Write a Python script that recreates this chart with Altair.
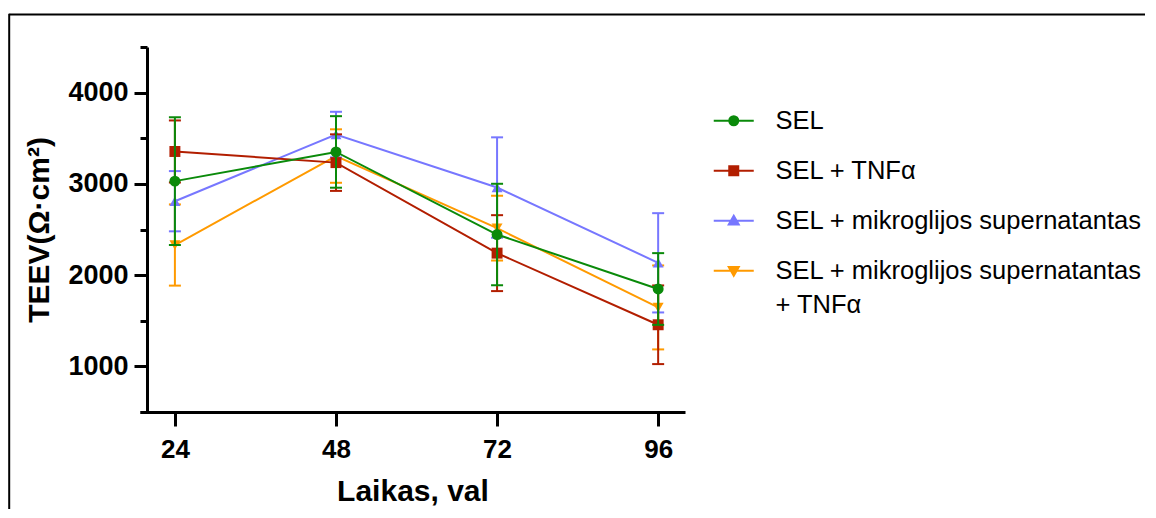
import altair as alt
import pandas as pd

# ---- data ----
times = [24, 48, 72, 96]
series = [
    "SEL",
    "SEL + TNFα",
    "SEL + mikroglijos supernatantas",
    "SEL + mikroglijos supernatantas + TNFα",
]
mean_sel = [3030, 3350, 2445, 1848]
sd_sel = [700, 392, 556, 393]
mean_tnf = [3355, 3233, 2241, 1456]
sd_tnf = [340, 310, 416, 431]
mean_mik = [2810, 3540, 2960, 2135]
sd_mik = [330, 250, 550, 544]
mean_mik_tnf = [2330, 3305, 2515, 1646]
sd_mik_tnf = [445, 293, 355, 460]

x_ticks = [24, 48, 72, 96]
y_ticks = [500, 1000, 1500, 2000, 2500, 3000, 3500, 4000, 4500]

# ---- styles ----
colors = ["#0A8A0A", "#B21E00", "#7777FF", "#FF9A00"]
shapes = ["circle", "square", "triangle-up", "triangle-down"]
legend_paths = [
    "M-4,0H4M0.9,0A0.9,0.9,0,1,1,-0.9,0A0.9,0.9,0,1,1,0.9,0Z",
    "M-4,0H4M-0.9,-0.9H0.9V0.9H-0.9Z",
    "M-4,0H4M0,-1L1,0.75H-1Z",
    "M-4,0H4M0,1L1,-0.75H-1Z",
]
FONT = "Liberation Sans"

means = [mean_sel, mean_tnf, mean_mik, mean_mik_tnf]
sds = [sd_sel, sd_tnf, sd_mik, sd_mik_tnf]
rows = []
for s, m, d in zip(series, means, sds):
    for t, mv, dv in zip(times, m, d):
        rows.append({"series": s, "time": t, "mean": mv, "lo": mv - dv, "hi": mv + dv})
df = pd.DataFrame(rows)

xscale = alt.Scale(domain=[18.8, 100], nice=False, zero=False)
yscale = alt.Scale(domain=[500, 4500], nice=False, zero=False)

xaxis = alt.Axis(
    values=x_ticks, title="Laikas, val", grid=False,
    domainColor="black", domainWidth=3, tickColor="black", tickWidth=3, tickSize=14,
    labelFont=FONT, labelFontSize=26, labelFontWeight="bold", labelColor="black",
    labelPadding=10, labelFlush=False,
    titleFont=FONT, titleFontSize=30, titleFontWeight="bold", titleColor="black",
    titlePadding=14,
)
yaxis = alt.Axis(
    values=y_ticks, title="TEEV(Ω·cm²)", grid=False, offset=-7, format="d",
    domainColor="black", domainWidth=3, tickColor="black", tickWidth=3,
    tickSize={"condition": {"test": "datum.value % 1000 != 0", "value": 7}, "value": 13},
    labelExpr="datum.value % 1000 == 0 ? datum.label : ''",
    labelFont=FONT, labelFontSize=27, labelFontWeight="bold", labelColor="black",
    labelPadding=6, labelFlush=False,
    titleFont=FONT, titleFontSize=30, titleFontWeight="bold", titleColor="black",
    titlePadding=13,
)

X = alt.X("time:Q", scale=xscale, axis=xaxis)
Y = alt.Y("mean:Q", scale=yscale, axis=yaxis)

base = alt.Chart(df)
layers = []
for s, col, shp in reversed(list(zip(series, colors, shapes))):
    b = base.transform_filter(alt.datum.series == s)
    layers.append(b.mark_line(color=col, strokeWidth=2).encode(x=X, y=Y))
    layers.append(b.mark_rule(color=col, strokeWidth=2).encode(
        x=X, y=alt.Y("lo:Q", scale=yscale, axis=yaxis), y2="hi:Q"))
    layers.append(b.mark_tick(color=col, orient="horizontal", size=12, thickness=2, opacity=1).encode(
        x=X, y=alt.Y("lo:Q", scale=yscale, axis=yaxis)))
    layers.append(b.mark_tick(color=col, orient="horizontal", size=12, thickness=2, opacity=1).encode(
        x=X, y=alt.Y("hi:Q", scale=yscale, axis=yaxis)))
    layers.append(b.mark_point(shape=shp, filled=True, size=120, color=col, opacity=1).encode(x=X, y=Y))

long_label = series[3]
legend = alt.Legend(
    title=None, orient="none", legendX=581, legendY=61, padding=0,
    direction="vertical", rowPadding=23,
    labelFont=FONT, labelFontSize=25.5, labelColor="black", labelLimit=600,
    labelOffset=29, symbolSize=100, symbolStrokeWidth=2, symbolOpacity=1,
    labelExpr=f"datum.label == '{long_label}' ? ['SEL + mikroglijos supernatantas', '+ TNFα'] : datum.label",
)
legend_layer = base.transform_filter("false").mark_point(filled=True).encode(
    fill=alt.Fill("series:N", scale=alt.Scale(domain=series, range=colors), legend=legend),
    stroke=alt.Stroke("series:N", scale=alt.Scale(domain=series, range=colors), legend=legend),
    shape=alt.Shape("series:N", scale=alt.Scale(domain=series, range=legend_paths), legend=legend),
)

frame = alt.Chart(alt.Data(values=[{"k": 1}]))
top_line = frame.mark_rule(color="black", strokeWidth=2).encode(
    x=alt.value(-130.8), x2=alt.value(1005), y=alt.value(-32.6))
left_line = frame.mark_rule(color="black", strokeWidth=2).encode(
    x=alt.value(-130.8), y=alt.value(-33.2), y2=alt.value(462))

chart = alt.layer(top_line, left_line, *layers, legend_layer).properties(
    width=545, height=365,
    padding={"top": 4, "left": 0, "right": 0, "bottom": 0},
).configure(
    font=FONT, style={"guide-label": {"lineHeight": 34}}
).configure_view(strokeOpacity=0)

chart.save("out.html", embed_options={"renderer": "svg", "actions": False})
